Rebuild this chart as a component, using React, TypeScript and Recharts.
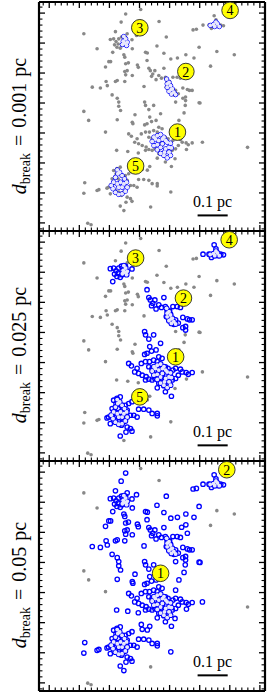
import React from "react";
import { ScatterChart, Scatter, XAxis, YAxis, ReferenceLine } from "recharts";

type Pt = [number, number];

// core positions, in units of 0.01 pc (one major tick = 0.1 pc)
// cores already grouped at d_break = 0.001 pc
const denseCores: Pt[] = [
  [34.8, 28.6], [35.9, 29.1], [37.0, 29.5], [38.1, 28.6], [38.7, 27.5], [39.2, 26.9], [40.3, 26.6],
  [40.6, 25.0], [39.8, 23.6], [40.3, 22.5], [39.2, 21.7], [38.1, 22.5], [37.0, 23.2], [35.9, 24.4],
  [34.8, 25.8], [34.2, 27.2], [36.4, 27.5], [37.6, 26.4], [38.7, 24.7], [37.0, 25.2], [38.3, 23.6],
  [35.3, 28.0], [39.8, 25.2], [35.9, 26.1], [37.6, 28.0],
  [39.0, 48.0], [39.8, 46.9], [40.3, 45.8], [39.2, 45.2], [40.9, 44.7], [39.8, 43.9], [41.4, 43.6],
  [40.6, 43.0], [42.0, 42.8], [39.2, 46.4], [40.5, 44.5],
  [24.8, 62.2], [25.4, 61.4], [24.6, 60.6], [25.9, 60.3], [24.3, 59.5], [25.7, 59.2], [25.0, 60.0],
  [53.5, 65.9], [54.6, 66.2], [55.4, 67.0], [55.9, 66.4], [56.5, 65.5], [55.0, 65.5],
  [22.6, 17.7], [23.4, 16.9], [24.2, 15.8], [25.0, 14.7], [25.7, 13.6], [25.9, 11.9], [25.3, 10.6],
  [24.2, 9.7], [23.1, 9.5], [22.0, 10.2], [21.2, 11.4], [20.6, 12.5], [21.4, 13.6], [22.0, 15.2],
  [22.8, 16.4], [23.7, 13.6], [24.2, 11.9], [23.1, 11.9], [22.6, 13.0], [24.8, 13.0],
];

// cores that join a group at d_break = 0.025 pc
const midCores: Pt[] = [
  [20.3, 61.2], [21.4, 61.4], [22.2, 60.5], [23.1, 61.4], [24.0, 62.0], [25.3, 62.0], [27.5, 61.1],
  [21.7, 59.4], [22.5, 58.6], [23.6, 58.3], [24.2, 59.2], [21.1, 56.9], [22.9, 59.7],
  [32.5, 54.2], [33.1, 51.6], [33.6, 50.8], [34.4, 49.7], [34.0, 48.9], [35.5, 47.8], [35.1, 50.8],
  [36.4, 49.2], [38.1, 51.6], [37.3, 48.3], [38.6, 48.6], [39.2, 47.2], [40.0, 47.2], [38.9, 45.3],
  [39.7, 44.2], [40.6, 43.4], [41.4, 42.7], [42.0, 44.2], [42.9, 43.1], [41.1, 48.6], [42.5, 48.6],
  [43.6, 48.3], [44.4, 45.0], [45.3, 42.0], [45.9, 44.5], [46.6, 44.2], [47.5, 44.2], [44.4, 41.6],
  [40.3, 46.1], [45.3, 40.8],
  [31.7, 40.3], [32.0, 39.2], [34.7, 39.2], [33.1, 37.8], [37.0, 36.4], [33.4, 35.3], [34.0, 33.8],
  [35.5, 34.2], [32.5, 33.1], [31.7, 32.7], [36.4, 31.9], [37.5, 31.4], [35.9, 30.3], [34.7, 30.8],
  [33.3, 30.3], [32.0, 30.3], [30.6, 29.7], [26.4, 29.7], [27.3, 28.9], [28.4, 26.9], [29.7, 26.4],
  [30.9, 25.8], [32.2, 25.3], [33.1, 24.5], [32.0, 24.2], [34.2, 24.2], [35.1, 24.7], [36.2, 24.5],
  [37.5, 25.8], [37.0, 26.9], [38.1, 23.6], [39.5, 24.7], [40.9, 24.2], [42.0, 24.7], [42.9, 25.8],
  [41.1, 27.5], [39.5, 28.1], [38.6, 28.6], [42.0, 28.1], [43.6, 27.8], [44.2, 26.9], [45.5, 26.7],
  [46.2, 26.1], [47.5, 26.7], [35.9, 21.6], [38.6, 20.3], [40.6, 18.8], [38.1, 22.3], [36.4, 23.1],
  [34.2, 28.1], [35.3, 28.6], [33.1, 28.6], [29.2, 28.1],
  [21.4, 17.5], [22.5, 18.1], [23.6, 18.6], [22.2, 16.4], [22.9, 14.7], [24.2, 15.6], [25.3, 15.8],
  [26.4, 16.4], [27.5, 17.0], [25.9, 14.2], [27.0, 12.5], [28.1, 12.5], [29.2, 11.9], [29.7, 14.5],
  [31.4, 14.5], [33.1, 14.2], [34.2, 13.1], [35.9, 13.1], [35.9, 12.3], [19.7, 11.9], [19.2, 11.6],
  [20.3, 9.7], [22.0, 10.8], [23.1, 10.3], [24.0, 9.2], [24.7, 10.3], [25.9, 8.6], [27.0, 8.1],
  [27.5, 7.2], [25.5, 6.9], [23.6, 5.6], [21.4, 13.1], [20.9, 14.7],
  [51.1, 66.0], [53.1, 66.0], [54.8, 69.1], [55.4, 67.8], [53.9, 64.9], [56.0, 65.6], [57.9, 65.8],
  [57.0, 66.0],
];

// cores that join a group at d_break = 0.05 pc
const outerCores: Pt[] = [
  [25.4, 69.7], [23.9, 67.0], [47.8, 64.4], [48.9, 64.6], [22.0, 63.8], [25.9, 63.1], [29.0, 62.5],
  [27.6, 58.1], [38.9, 62.0], [35.8, 59.0], [32.0, 56.9], [32.6, 56.7], [38.1, 56.6], [49.8, 58.6],
  [45.4, 56.1], [24.8, 56.1], [25.1, 55.3], [40.4, 54.7], [42.6, 55.0], [48.1, 55.0], [20.4, 53.8],
  [19.8, 53.8], [25.4, 53.1], [26.3, 53.4], [29.3, 52.7], [29.6, 51.9], [18.7, 52.0], [25.9, 50.8],
  [25.1, 50.5], [45.4, 52.5], [44.0, 51.7], [45.9, 49.7], [27.6, 49.2], [25.4, 49.4], [22.6, 47.5],
  [22.0, 47.2], [18.9, 47.2], [19.3, 45.8], [14.3, 45.3], [17.0, 45.0], [25.1, 47.2], [31.5, 45.5],
  [20.9, 42.7], [22.6, 41.6], [23.1, 40.3], [49.8, 40.1], [45.2, 39.2], [44.8, 36.7], [42.0, 40.3],
  [23.1, 38.9], [23.7, 37.5], [28.5, 36.1], [22.6, 34.4], [27.6, 33.6], [27.8, 33.1], [43.1, 34.2],
  [42.0, 30.8], [45.6, 24.5], [50.9, 26.9], [22.4, 24.2], [26.1, 23.8], [29.6, 23.3], [41.8, 21.4],
  [30.6, 19.4], [33.4, 18.8], [32.6, 17.6], [30.9, 17.8], [11.8, 13.4], [16.5, 11.1], [15.9, 10.8],
  [11.5, 9.9], [40.4, 10.3], [24.8, 4.1], [50.1, 40.0],
];

// cores never grouped
const fieldCores: Pt[] = [
  [36.5, 67.2], [30.4, 71.2], [11.5, 63.1], [15.9, 58.1], [53.6, 52.3], [11.5, 37.2], [13.1, 34.2],
  [18.7, 30.3], [33.7, 5.3], [65.9, 25.2], [55.7, 57.2], [61.5, 56.1], [12.8, -0.1], [13.9, -0.6],
];

const dBreakValues = ["0.001", "0.025", "0.05"];

const groupLabels001 = [
  { id: 1, x: 42.6, y: 30.3 }, { id: 2, x: 45.4, y: 50.5 }, { id: 3, x: 30.1, y: 65.1 },
  { id: 4, x: 60.1, y: 70.9 }, { id: 5, x: 28.7, y: 19.0 },
];
const groupLabels025 = [
  { id: 1, x: 42.0, y: 31.9 }, { id: 2, x: 44.6, y: 51.4 }, { id: 3, x: 28.7, y: 64.7 },
  { id: 4, x: 59.8, y: 70.8 }, { id: 5, x: 30.1, y: 18.6 },
];
const groupLabels05 = [
  { id: 1, x: 37.0, y: 36.4 }, { id: 2, x: 59.0, y: 70.8 },
];

const scaleBarX = [49.3, 59.3];
const scaleBarY = 2.5;
const scaleBarText = "0.1 pc";

// tick marks every 0.02 pc, longer every 0.1 pc
const X_TICKS = [-2, 0, 2, 4, 6, 8, 10, 12, 14, 16, 18, 20, 22, 24, 26, 28, 30, 32, 34, 36, 38, 40, 42, 44, 46, 48, 50, 52, 54, 56, 58, 60, 62, 64, 66, 68, 70];
const Y_TICKS = [-2, 0, 2, 4, 6, 8, 10, 12, 14, 16, 18, 20, 22, 24, 26, 28, 30, 32, 34, 36, 38, 40, 42, 44, 46, 48, 50, 52, 54, 56, 58, 60, 62, 64, 66, 68, 70, 72];

const X_DOMAIN: [number, number] = [-3.4, 71.7];
const Y_DOMAIN: [number, number] = [-2.7, 73.7];

// layout
const FRAME_TOP = [2, 231, 461];
const FRAME_H = [229, 230, 230];
const PAD = 2;
const LEFT = 39;
const RIGHT = 5;
const W = 270;
const AX = 0.01; // mirrored axes get a hairline box so they still render
const MAJOR_LEN = 2.0; // tick length, in axis units (about 6 px)
const MINOR_LEN = 1.15;
const SERIF = "'Liberation Serif', 'Times New Roman', Times, serif";
const BLUE = "#0000ff";

const toPoints = (arr: Pt[]) => arr.map(([x, y]) => ({ x, y }));
const isMajor = (v: number) => v % 10 === 0;

const grayDot = (p: any) => <circle cx={p.cx} cy={p.cy} r={1.8} fill="#888888" />;
const ring = (r: number, w: number) => (p: any) => (
  <circle cx={p.cx} cy={p.cy} r={r} fill="none" stroke={BLUE} strokeWidth={w} />
);
const coreFill = (r: number) => (p: any) => <circle cx={p.cx} cy={p.cy} r={r} fill="#e8e8fb" />;

const GroupMarker = (p: any) => (
  <g>
    <circle cx={p.cx} cy={p.cy} r={8.3} fill="#ffff00" stroke="#222" strokeWidth={0.9} />
    <text x={p.cx} y={p.cy + 5} textAnchor="middle" fontSize={14} fontFamily={SERIF} fill="#000">
      {p.payload.id}
    </text>
  </g>
);

const DBreakLabel = (dBreak: string) => (lp: any) => {
  const vb = lp.viewBox ?? { x: LEFT, y: PAD };
  return (
    <text
      transform={`translate(${vb.x - 13},${vb.y + 124}) rotate(-90)`}
      textAnchor="middle" fontFamily={SERIF} fontSize={20} fill="#000"
    >
      <tspan fontStyle="italic">d</tspan>
      <tspan fontSize={14} dy={4}>break</tspan>
      <tspan dy={-4} dx={7}>=</tspan>
      <tspan dx={7}>{dBreak}</tspan>
      <tspan dx={6}>pc</tspan>
    </text>
  );
};

// inward ticks on all four edges, drawn through the chart's own scales
const tickMarks = (ids: { xAxisId: string; yAxisId: string }) => {
  const seg = (key: string, a: { x: number; y: number }, b: { x: number; y: number }, major: boolean) => (
    <ReferenceLine key={key} {...ids} segment={[a, b]} stroke="#000" strokeWidth={major ? 1.3 : 1.1} ifOverflow="visible" />
  );
  const [x0, x1] = X_DOMAIN;
  const [y0, y1] = Y_DOMAIN;
  return [
    ...X_TICKS.flatMap((v) => {
      const L = isMajor(v) ? MAJOR_LEN : MINOR_LEN;
      return [
        seg(`xb${v}`, { x: v, y: y0 }, { x: v, y: y0 + L }, isMajor(v)),
        seg(`xt${v}`, { x: v, y: y1 }, { x: v, y: y1 - L }, isMajor(v)),
      ];
    }),
    ...Y_TICKS.flatMap((v) => {
      const L = isMajor(v) ? MAJOR_LEN : MINOR_LEN;
      return [
        seg(`yl${v}`, { x: x0, y: v }, { x: x0 + L, y: v }, isMajor(v)),
        seg(`yr${v}`, { x: x1, y: v }, { x: x1 - L, y: v }, isMajor(v)),
      ];
    }),
  ];
};

function Panel({ index }: { index: number }) {
  const h = FRAME_H[index];
  const gray =
    index === 0 ? [...midCores, ...outerCores, ...fieldCores] : index === 1 ? [...outerCores, ...fieldCores] : fieldCores;
  const blue = index === 0 ? [] : index === 1 ? midCores : [...midCores, ...outerCores];
  const labels = [groupLabels001, groupLabels025, groupLabels05][index];
  const denseR = index === 0 ? 2.2 : 2.3;
  const denseW = index === 0 ? 1.0 : 1.3;
  const ids = { xAxisId: "b", yAxisId: "l" };
  const frame = { stroke: "#000", axisLine: { strokeWidth: 2.2 }, mirror: true, type: "number" as const, tick: false, tickLine: false };
  return (
    <div style={{ position: "absolute", left: 0, top: FRAME_TOP[index] - PAD, width: W, height: h + 2 * PAD }}>
      <ScatterChart width={W} height={h + 2 * PAD} margin={{ top: PAD, bottom: PAD, left: LEFT, right: RIGHT }}>
        <XAxis xAxisId="b" dataKey="x" domain={X_DOMAIN} orientation="bottom" height={AX} {...frame} />
        <XAxis xAxisId="t" dataKey="x" domain={X_DOMAIN} orientation="top" height={AX} allowDataOverflow {...frame} />
        <YAxis yAxisId="l" dataKey="y" domain={Y_DOMAIN} orientation="left" width={AX} {...frame}
          label={{ content: DBreakLabel(dBreakValues[index]) }} />
        <YAxis yAxisId="r" dataKey="y" domain={Y_DOMAIN} orientation="right" width={AX} allowDataOverflow {...frame} />
        {tickMarks(ids)}
        <Scatter {...ids} data={toPoints(gray)} shape={grayDot} isAnimationActive={false} />
        <Scatter {...ids} data={toPoints(blue)} shape={ring(2.2, 1.3)} isAnimationActive={false} />
        <Scatter {...ids} data={toPoints(denseCores)} shape={ring(denseR, denseW)} isAnimationActive={false} />
        <Scatter {...ids} data={toPoints(denseCores)} shape={coreFill(1.9)} isAnimationActive={false} />
        <Scatter {...ids} data={labels} shape={GroupMarker} isAnimationActive={false} />
        <ReferenceLine
          {...ids}
          segment={[{ x: scaleBarX[0], y: scaleBarY }, { x: scaleBarX[1], y: scaleBarY }]}
          stroke="#000"
          strokeWidth={2}
          ifOverflow="visible"
          label={{ value: scaleBarText, position: "top", offset: 8, fill: "#000", fontSize: 16, fontFamily: SERIF }}
        />
      </ScatterChart>
    </div>
  );
}

export default function App() {
  return (
    <div style={{ position: "absolute", left: 0, top: 0, width: W, height: 693, background: "#fff" }}>
      <Panel index={0} />
      <Panel index={1} />
      <Panel index={2} />
    </div>
  );
}
